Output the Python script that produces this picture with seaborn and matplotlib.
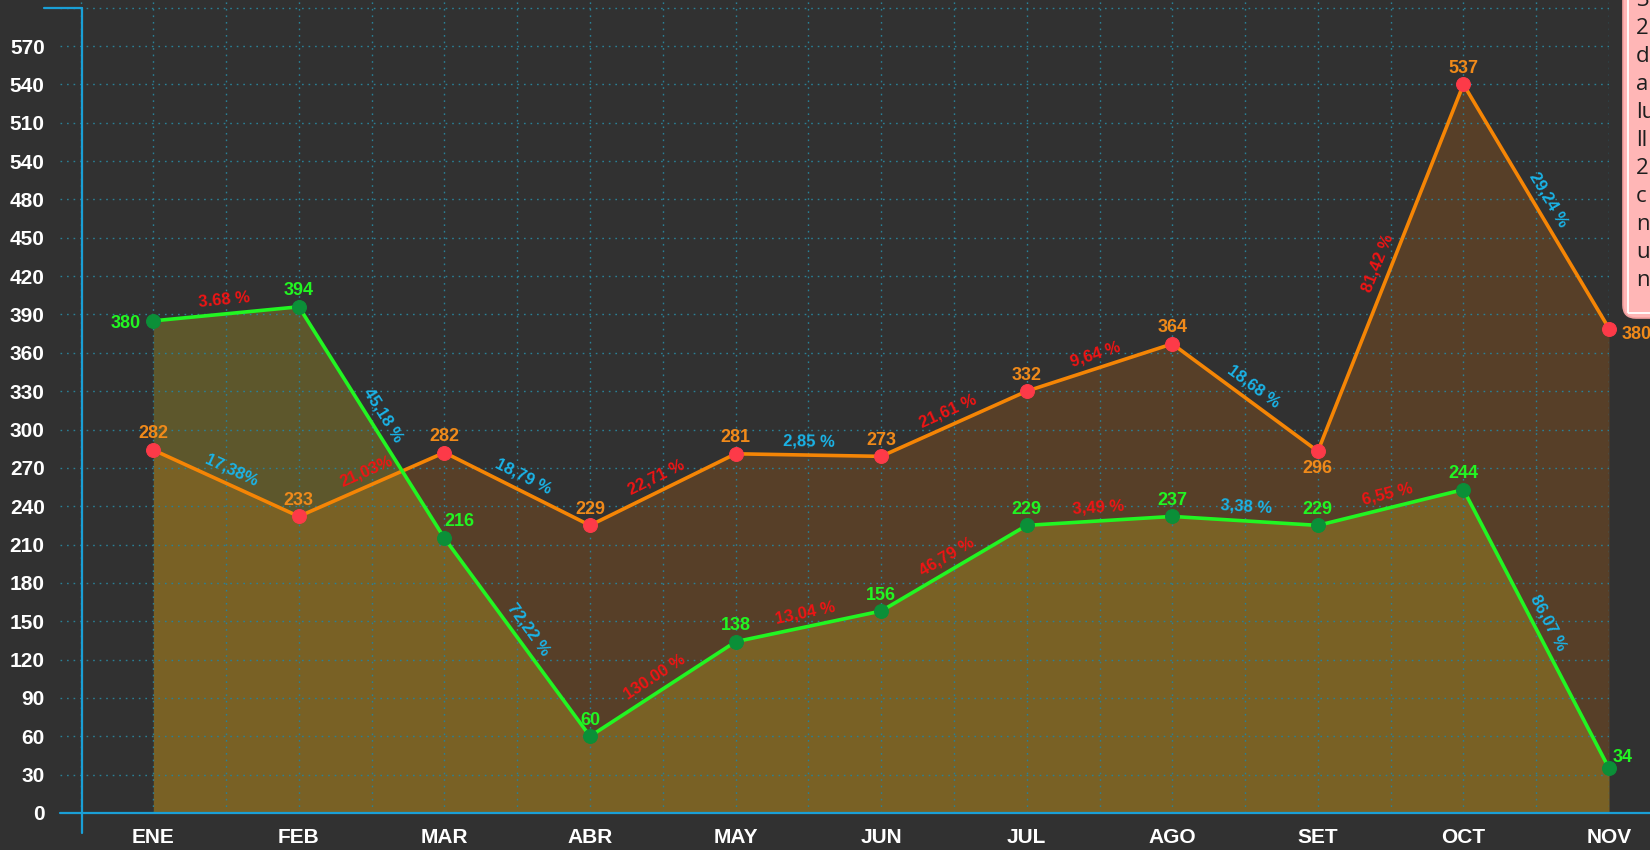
import numpy as np
import matplotlib
matplotlib.use("Agg")
import matplotlib.pyplot as plt
import seaborn as sns
from matplotlib.lines import Line2D
from matplotlib.patches import FancyBboxPatch, Rectangle

meses = ["ENE", "FEB", "MAR", "ABR", "MAY", "JUN", "JUL", "AGO", "SET", "OCT", "NOV"]

# height of each point as read against the y axis
verde = [385, 396, 215, 60, 134, 158, 225, 232, 225, 253, 35]
naranja = [284, 232, 282, 225, 281, 279, 330, 367, 283, 570, 379]

# numbers printed next to each point
verde_etiquetas = [380, 394, 216, 60, 138, 156, 229, 237, 229, 244, 34]
naranja_etiquetas = [282, 233, 282, 229, 281, 273, 332, 364, 296, 537, 380]

# percentage change printed on each segment
verde_pct = ["3.68 %", "45,18 %", "72,22 %", "130.00 %", "13,04 %", "46,79 %",
             "3,49 %", "3,38 %", "6,55 %", "86,07 %"]
naranja_pct = ["17,38%", "21,03%", "18,79 %", "22,71 %", "2,85 %", "21,61 %",
               "9,64 %", "18,68 %", "81,42 %", "29,24 %"]

y_ticks = list(range(0, 631, 30))
y_tick_labels = [str(v) for v in range(0, 481, 30)] + ["540", "510", "540", "570", ""]

nota = ["3.", "2", "d", "a", "lu", "ll", "2", "c", "n", "u", "n"]

BG = "#313131"
AZUL = "#1a9fd6"
VERDE = "#22f522"
VERDE_PT = "#0b8f38"
NARANJA = "#f58505"
NARANJA_TXT = "#f08a1a"
ROJO_PT = "#fd3a48"
SUBE = "#f01414"
BAJA = "#1ab4e8"

sns.set_style("dark")
plt.rcParams["font.family"] = ["Liberation Sans", "DejaVu Sans"]

W, H = 1650, 850
fig = plt.figure(figsize=(W / 100, H / 100), dpi=100, facecolor=BG)
ax = fig.add_axes([60 / W, 37 / H, (1609 - 60) / W, 813 / H])
ax.set_facecolor(BG)

x = np.arange(len(meses))

ax.fill_between(x, 0, naranja, color="#573f28", lw=0, zorder=1)
ax.fill_between(x, 0, verde, color=(220 / 255, 196 / 255, 30 / 255), alpha=0.26, lw=0, zorder=1.1)

sns.lineplot(x=x, y=naranja, ax=ax, color=NARANJA, lw=2.6, marker="o", ms=10,
             markerfacecolor=ROJO_PT, markeredgecolor=ROJO_PT, sort=False, clip_on=False, zorder=4)
sns.lineplot(x=x, y=verde, ax=ax, color=VERDE, lw=2.6, marker="o", ms=10,
             markerfacecolor=VERDE_PT, markeredgecolor=VERDE_PT, sort=False, clip_on=False, zorder=5)

ax.set_xlim(-93.3 / 145.57, 10)
ax.set_ylim(0, 813 / 1.2783)
ax.set_xticks(x)
ax.set_xticklabels(meses)
ax.set_xticks(np.arange(-0.5, 10.01, 0.5), minor=True)
ax.set_yticks(y_ticks)
ax.set_yticklabels(y_tick_labels)
ax.tick_params(axis="both", which="both", length=0, colors="white", labelsize=15)
ax.tick_params(axis="x", pad=10.5)
ax.tick_params(axis="y", pad=11)
for lab in ax.get_xticklabels() + ax.get_yticklabels():
    lab.set_fontweight("bold")
ax.grid(False)
ax.grid(True, axis="y", which="major", color="#2a8096", lw=1, ls=(0, (1.2, 3.5)))
ax.grid(True, axis="x", which="both", color="#2a8096", lw=1, ls=(0, (1.2, 3.5)))
ax.set_axisbelow("line")
for s in ax.spines.values():
    s.set_visible(False)

# value labels
def etiqueta(xi, yi, txt, color, dx=0, dy=11.5, ha="center"):
    ax.annotate(txt, (xi, yi), xytext=(dx, dy), textcoords="offset points",
                ha=ha, va="center", color=color, fontsize=13, fontweight="bold", zorder=6,
                annotation_clip=False)

for i, (v, t) in enumerate(zip(verde, verde_etiquetas)):
    if i == 0:
        etiqueta(i, v, str(t), VERDE, dx=-9, dy=-2, ha="right")
    elif i == len(verde) - 1:
        etiqueta(i, v, str(t), VERDE, dx=2.5, dy=8, ha="left")
    elif meses[i] == "MAR":
        etiqueta(i, v, str(t), VERDE, dx=11, dy=12)
    else:
        etiqueta(i, v, str(t), VERDE)

for i, (v, t) in enumerate(zip(naranja, naranja_etiquetas)):
    if i == len(naranja) - 1:
        etiqueta(i, v, str(t), NARANJA_TXT, dx=9, dy=-4, ha="left")
    elif meses[i] == "SET":
        etiqueta(i, v, str(t), NARANJA_TXT, dy=-12.5)
    else:
        etiqueta(i, v, str(t), NARANJA_TXT)

# percentage labels along each segment
def porcentajes(serie, valores, textos):
    pts = ax.transData.transform(np.column_stack([x, serie]))
    for i, txt in enumerate(textos):
        p1, p2 = pts[i], pts[i + 1]
        d = p2 - p1
        ang = np.degrees(np.arctan2(d[1], d[0]))
        n = np.array([-d[1], d[0]]) / np.hypot(*d)
        c = (p1 + p2) / 2 + n * 14
        cx, cy = ax.transData.inverted().transform(c)
        color = SUBE if valores[i + 1] > valores[i] else BAJA
        ax.text(cx, cy, txt, rotation=ang, rotation_mode="anchor", ha="center", va="center",
                color=color, fontsize=12, fontweight="bold", zorder=6)

porcentajes(verde, verde_etiquetas, verde_pct)
porcentajes(naranja, naranja_etiquetas, naranja_pct)

# axis lines drawn across the figure
fig.add_artist(Line2D([82 / W, 82 / W], [1 - 8 / H, 1 - 833 / H], color=AZUL, lw=1.6))
fig.add_artist(Line2D([44 / W, 82 / W], [1 - 8 / H, 1 - 8 / H], color=AZUL, lw=1.6))
fig.add_artist(Line2D([60 / W, 1.0], [1 - 813 / H, 1 - 813 / H], color=AZUL, lw=1.6))

# tooltip box cut by the right edge
caja = FancyBboxPatch((16.23, 5.32), 1.2, 4.0, boxstyle="round,pad=0,rounding_size=0.13",
                      transform=fig.dpi_scale_trans, fc="#ffb6b6", ec="#f3a0a0", lw=1.2)
fig.add_artist(caja)
fig.add_artist(Rectangle((16.28, 5.37), 1.2, 4.0, transform=fig.dpi_scale_trans,
                         fill=False, ec="white", lw=1.3))
for i, t in enumerate(nota):
    fig.text(1636 / W, 1 - (1 + 28 * i) / H, t, ha="left", va="center", fontsize=16,
             color="#1e1e1e", family=["Open Sans", "DejaVu Sans"])

fig.savefig("out.png", dpi=100, facecolor=BG)
